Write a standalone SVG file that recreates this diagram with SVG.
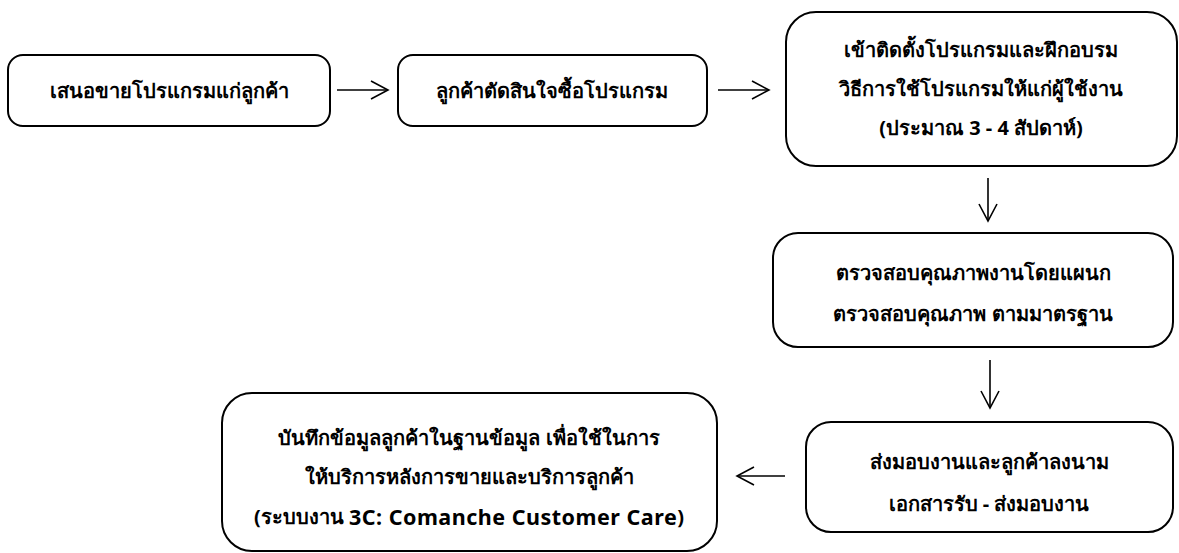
<svg xmlns="http://www.w3.org/2000/svg" width="1179" height="553" viewBox="0 0 1179 553">
<style>
.box{fill:#fff;stroke:#000;stroke-width:2}
.t{font-family:"Noto Sans","DejaVu Sans",sans-serif;font-size:20px;font-weight:bold;text-anchor:middle;dominant-baseline:central;fill:#000}
.lat{font-size:21.5px;letter-spacing:0.5px}
.c{fill:none;stroke:#000;stroke-width:1.6}
</style>
<defs>
<marker id="ah" viewBox="0 0 24 24" refX="22" refY="12" markerWidth="24" markerHeight="24" markerUnits="userSpaceOnUse" orient="auto">
<polyline points="5,3 22,12 5,21" fill="none" stroke="#000" stroke-width="1.6"/>
</marker>
</defs>
<rect width="1179" height="553" fill="#fff"/>
<g id="n1"><rect class="box" x="8" y="55" width="322" height="71" rx="15"/><text class="t" x="169" y="90">เสนอขายโปรแกรมแก่ลูกค้า</text></g>
<g id="n2"><rect class="box" x="398" y="55" width="309" height="71" rx="15"/><text class="t" x="552" y="90">ลูกค้าตัดสินใจซื้อโปรแกรม</text></g>
<g id="n3"><rect class="box" x="786" y="12" width="391" height="154" rx="30"/><text class="t" x="981" y="49">เข้าติดตั้งโปรแกรมและฝึกอบรม</text><text class="t" x="981" y="88">วิธีการใช้โปรแกรมให้แก่ผู้ใช้งาน</text><text class="t" x="981" y="127">(ประมาณ 3 - 4 สัปดาห์)</text></g>
<g id="n4"><rect class="box" x="773" y="233" width="400" height="114" rx="25"/><text class="t" x="973" y="272">ตรวจสอบคุณภาพงานโดยแผนก</text><text class="t" x="973" y="313">ตรวจสอบคุณภาพ ตามมาตรฐาน</text></g>
<g id="n5"><rect class="box" x="806" y="422" width="367" height="110" rx="25"/><text class="t" x="989" y="461">ส่งมอบงานและลูกค้าลงนาม</text><text class="t" x="989" y="503">เอกสารรับ - ส่งมอบงาน</text></g>
<g id="n6"><rect class="box" x="222" y="393" width="495" height="158" rx="30"/><text class="t" x="469" y="437">บันทึกข้อมูลลูกค้าในฐานข้อมูล เพื่อใช้ในการ</text><text class="t" x="469" y="476">ให้บริการหลังการขายและบริการลูกค้า</text><text class="t" x="469" y="516">(ระบบงาน <tspan class="lat">3C: Comanche Customer Care</tspan>)</text></g>
<g id="connectors">
<line class="c" x1="337" y1="90" x2="388" y2="90" marker-end="url(#ah)"/>
<line class="c" x1="718" y1="90" x2="769" y2="90" marker-end="url(#ah)"/>
<line class="c" x1="988" y1="178" x2="988" y2="221" marker-end="url(#ah)"/>
<line class="c" x1="990" y1="360" x2="990" y2="408" marker-end="url(#ah)"/>
<line class="c" x1="785" y1="476" x2="737" y2="476" marker-end="url(#ah)"/>
</g>
</svg>
